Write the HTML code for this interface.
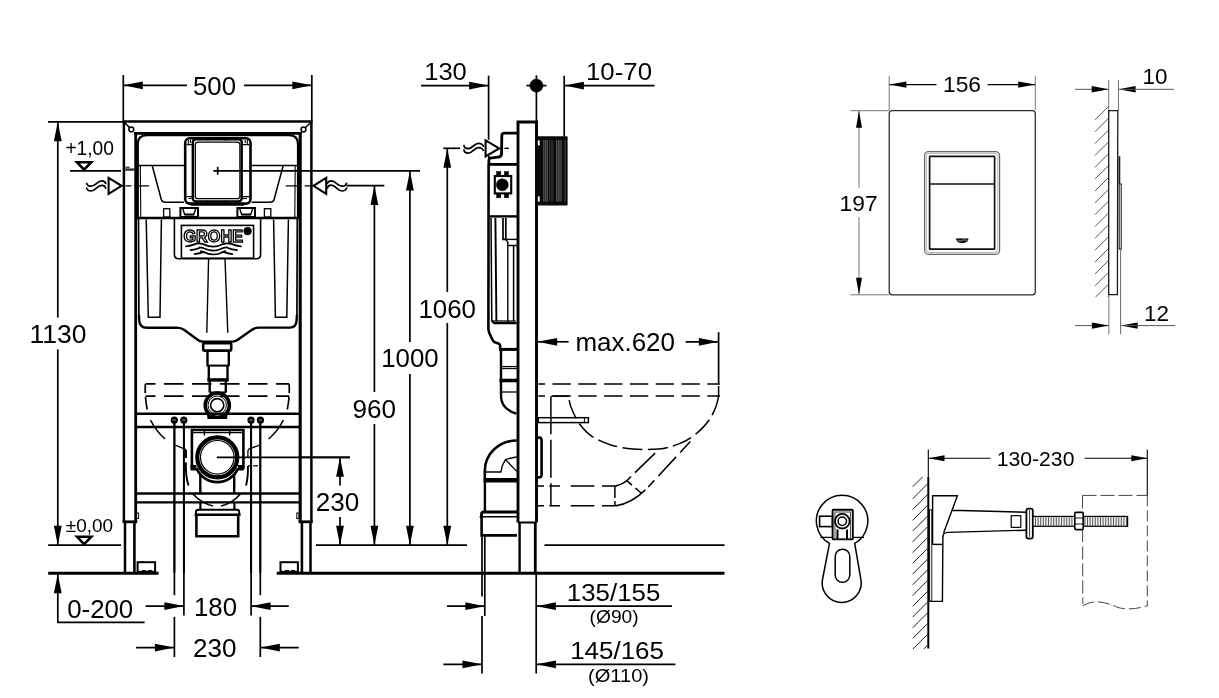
<!DOCTYPE html>
<html><head><meta charset="utf-8"><title>GROHE Rapid SL</title>
<style>
html,body{margin:0;padding:0;background:#fff;}
svg{display:block;filter:grayscale(1);}
text{font-family:"Liberation Sans",Arial,sans-serif;}
</style></head><body>
<svg width="1219" height="698" viewBox="0 0 1219 698" stroke-linecap="butt">
<rect x="0" y="0" width="1219" height="698" fill="#fff"/>
<g opacity="0.999">
<line x1="123.3" y1="75" x2="123.3" y2="121" stroke="#000" stroke-width="1.7" />
<line x1="311.8" y1="75" x2="311.8" y2="121" stroke="#000" stroke-width="1.7" />
<line x1="123.3" y1="85.3" x2="187" y2="85.3" stroke="#000" stroke-width="1.7" />
<line x1="244" y1="85.3" x2="311.8" y2="85.3" stroke="#000" stroke-width="1.7" />
<polygon points="123.3,85.3 142.8,81.39999999999999 142.8,89.2" fill="#000"/>
<polygon points="311.8,85.3 292.3,81.39999999999999 292.3,89.2" fill="#000"/>
<text x="193" y="95.2" font-size="25.2" text-anchor="start" fill="#000" textLength="43" lengthAdjust="spacingAndGlyphs" >500</text>
<line x1="48" y1="121.8" x2="123" y2="121.8" stroke="#000" stroke-width="1.7" />
<line x1="57.8" y1="122" x2="57.8" y2="317.6" stroke="#000" stroke-width="1.7" />
<line x1="57.8" y1="349.4" x2="57.8" y2="545" stroke="#000" stroke-width="1.7" />
<polygon points="57.8,121.8 53.9,141.3 61.699999999999996,141.3" fill="#000"/>
<polygon points="57.8,545.2 53.9,525.7 61.699999999999996,525.7" fill="#000"/>
<text x="29.5" y="343.4" font-size="25.2" text-anchor="start" fill="#000" textLength="57" lengthAdjust="spacingAndGlyphs" >1130</text>
<line x1="48.2" y1="545.2" x2="121" y2="545.2" stroke="#000" stroke-width="1.7" />
<text x="65.4" y="155.2" font-size="19.4" text-anchor="start" fill="#000" textLength="48.6" lengthAdjust="spacingAndGlyphs" >+1,00</text>
<path d="M77,162.3 L91.2,162.3 L84.1,169.6 Z" stroke="#000" stroke-width="2.6" fill="none" />
<line x1="70" y1="170.9" x2="121" y2="170.9" stroke="#000" stroke-width="1.7" />
<text x="65.8" y="531.9" font-size="18.4" text-anchor="start" fill="#000" textLength="47.2" lengthAdjust="spacingAndGlyphs" >±0,00</text>
<path d="M77.1,536.8 L91.3,536.8 L84.2,544.2 Z" stroke="#000" stroke-width="2.6" fill="none" />
<line x1="48.2" y1="573.2" x2="158.6" y2="573.2" stroke="#000" stroke-width="3" />
<line x1="276.7" y1="573.2" x2="724.5" y2="573.2" stroke="#000" stroke-width="3" />
<line x1="316" y1="545.2" x2="467" y2="545.2" stroke="#000" stroke-width="1.7" />
<line x1="544.5" y1="545.2" x2="724.5" y2="545.2" stroke="#000" stroke-width="1.7" />
<line x1="57.8" y1="573.5" x2="57.8" y2="622.3" stroke="#000" stroke-width="1.7" />
<polygon points="57.8,573.8 53.9,593.3 61.699999999999996,593.3" fill="#000"/>
<line x1="57.2" y1="622.3" x2="144.7" y2="622.3" stroke="#000" stroke-width="1.7" />
<text x="67.2" y="617.6" font-size="25.2" text-anchor="start" fill="#000" textLength="66" lengthAdjust="spacingAndGlyphs" >0-200</text>
<line x1="174.4" y1="420" x2="174.4" y2="595.2" stroke="#000" stroke-width="1.7" />
<line x1="174.4" y1="616.8" x2="174.4" y2="657" stroke="#000" stroke-width="1.7" />
<line x1="183.9" y1="420" x2="183.9" y2="615.6" stroke="#000" stroke-width="1.7" />
<line x1="251.1" y1="420" x2="251.1" y2="615.6" stroke="#000" stroke-width="1.7" />
<line x1="260.3" y1="420" x2="260.3" y2="595.2" stroke="#000" stroke-width="1.7" />
<line x1="260.3" y1="616.8" x2="260.3" y2="657" stroke="#000" stroke-width="1.7" />
<line x1="145.6" y1="606.1" x2="183.9" y2="606.1" stroke="#000" stroke-width="1.7" />
<polygon points="183.9,606.1 164.4,602.2 164.4,610.0" fill="#000"/>
<line x1="251.1" y1="606.1" x2="288.8" y2="606.1" stroke="#000" stroke-width="1.7" />
<polygon points="251.1,606.1 270.6,602.2 270.6,610.0" fill="#000"/>
<line x1="136.1" y1="647.6" x2="174.4" y2="647.6" stroke="#000" stroke-width="1.7" />
<polygon points="174.4,647.6 154.9,643.7 154.9,651.5" fill="#000"/>
<line x1="260.3" y1="647.6" x2="298.8" y2="647.6" stroke="#000" stroke-width="1.7" />
<polygon points="260.3,647.6 279.8,643.7 279.8,651.5" fill="#000"/>
<text x="194" y="615.6" font-size="25.2" text-anchor="start" fill="#000" textLength="43" lengthAdjust="spacingAndGlyphs" >180</text>
<text x="193" y="656.8" font-size="25.2" text-anchor="start" fill="#000" textLength="43.5" lengthAdjust="spacingAndGlyphs" >230</text>
<line x1="125.2" y1="169.6" x2="134.3" y2="169.6" stroke="#333" stroke-width="2.4" />
<line x1="125.4" y1="167.4" x2="129.6" y2="167.4" stroke="#444" stroke-width="1.6" />
<line x1="122.6" y1="121.6" x2="312.6" y2="121.6" stroke="#000" stroke-width="2.5" />
<line x1="123.9" y1="121" x2="123.9" y2="522" stroke="#000" stroke-width="2.5" />
<line x1="311.4" y1="121" x2="311.4" y2="522" stroke="#000" stroke-width="2.5" />
<line x1="135.7" y1="132" x2="135.7" y2="522" stroke="#000" stroke-width="2.8" />
<line x1="300.2" y1="132" x2="300.2" y2="522" stroke="#000" stroke-width="3.1" />
<line x1="134.3" y1="133.4" x2="301.7" y2="133.4" stroke="#000" stroke-width="2.8" />
<line x1="122.7" y1="521.8" x2="137.2" y2="521.8" stroke="#000" stroke-width="2.8" />
<line x1="298.6" y1="521.8" x2="312.7" y2="521.8" stroke="#000" stroke-width="2.8" />
<line x1="125" y1="522" x2="125" y2="572" stroke="#000" stroke-width="2.5" />
<line x1="134.4" y1="522" x2="134.4" y2="572" stroke="#000" stroke-width="2.6" />
<line x1="301.9" y1="522" x2="301.9" y2="572" stroke="#000" stroke-width="2.6" />
<line x1="310.5" y1="522" x2="310.5" y2="572" stroke="#000" stroke-width="2.5" />
<line x1="124" y1="122" x2="129.6" y2="127.6" stroke="#000" stroke-width="1.5" />
<circle cx="131.3" cy="129.4" r="2.4" stroke="#000" stroke-width="1.5" fill="none"/>
<line x1="311.4" y1="122" x2="305.2" y2="127.8" stroke="#000" stroke-width="1.5" />
<circle cx="303.5" cy="129.5" r="2.4" stroke="#000" stroke-width="1.5" fill="none"/>
<line x1="135.8" y1="413.8" x2="299.9" y2="413.8" stroke="#000" stroke-width="2.6" />
<line x1="135.8" y1="427" x2="299.9" y2="427" stroke="#000" stroke-width="2.6" />
<line x1="135.8" y1="493.5" x2="299.9" y2="493.5" stroke="#000" stroke-width="2.4" />
<line x1="135.8" y1="502.4" x2="299.9" y2="502.4" stroke="#000" stroke-width="2.4" />
<rect x="137.6" y="562.2" width="17.5" height="9.6" rx="0" stroke="#000" stroke-width="2" fill="none" />
<rect x="280.5" y="562.2" width="17.4" height="9.6" rx="0" stroke="#000" stroke-width="2" fill="none" />
<line x1="142" y1="570.5" x2="146" y2="570.5" stroke="#000" stroke-width="1" />
<line x1="148" y1="570.5" x2="152" y2="570.5" stroke="#000" stroke-width="1" />
<line x1="285" y1="570.5" x2="289" y2="570.5" stroke="#000" stroke-width="1" />
<line x1="291" y1="570.5" x2="295" y2="570.5" stroke="#000" stroke-width="1" />
<rect x="136.5" y="513" width="2.1" height="5.5" rx="0" stroke="#000" stroke-width="1" fill="none" />
<rect x="296.8" y="513" width="2.2" height="5.5" rx="0" stroke="#000" stroke-width="1" fill="none" />
<path d="M137.8,218 L137.8,144.4 Q137.8,135.2 147,135.2 L288.8,135.2 Q298,135.2 298,144.4 L298,218" stroke="#000" stroke-width="2.2" fill="none" />
<line x1="138.5" y1="218" x2="138.9" y2="317" stroke="#000" stroke-width="1.7" />
<line x1="297.3" y1="218" x2="296.9" y2="317" stroke="#000" stroke-width="1.7" />
<path d="M138.9,315 L139.2,320.5 Q139.6,327.8 147,327.8 L177.2,327.6 Q181,327.8 184,329.8 L198,340 Q200,341.6 203,341.6 L232.5,341.6 Q235.2,341.6 237.4,340 L252,329.8 Q255,327.8 258.6,327.6 L289.5,327.6 Q296.2,327.8 296.6,320.5 L296.9,315" stroke="#000" stroke-width="2.4" fill="none" />
<line x1="138" y1="165.5" x2="184" y2="165.5" stroke="#000" stroke-width="1.5" />
<line x1="251.6" y1="165.5" x2="297.6" y2="165.5" stroke="#000" stroke-width="1.5" />
<path d="M152.2,165.5 L161.3,199.5 Q162.2,202.2 165.5,202.2 L184,202.2" stroke="#000" stroke-width="1.5" fill="none" />
<path d="M283.2,165.5 L274.1,199.5 Q273.2,202.2 269.9,202.2 L251.6,202.2" stroke="#000" stroke-width="1.5" fill="none" />
<line x1="140.3" y1="166" x2="140.8" y2="218" stroke="#000" stroke-width="1.1" />
<line x1="295.2" y1="166" x2="294.8" y2="218" stroke="#000" stroke-width="1.1" />
<line x1="135.8" y1="218" x2="299.9" y2="218" stroke="#000" stroke-width="2.4" />
<rect x="163.6" y="208.7" width="6.2" height="8.3" rx="0" stroke="#000" stroke-width="1.3" fill="none" />
<rect x="264.4" y="208.7" width="6.4" height="8.3" rx="0" stroke="#000" stroke-width="1.3" fill="none" />
<rect x="180.4" y="208" width="17.6" height="9" rx="0" stroke="#000" stroke-width="2" fill="none" />
<rect x="237.4" y="208" width="17.6" height="9" rx="0" stroke="#000" stroke-width="2" fill="none" />
<path d="M182.8,209 L184.6,214.3 L193.8,214.3 L195.6,209" stroke="#000" stroke-width="1.4" fill="none" />
<path d="M239.8,209 L241.6,214.3 L250.8,214.3 L252.6,209" stroke="#000" stroke-width="1.4" fill="none" />
<line x1="184.5" y1="216" x2="194.5" y2="216" stroke="#000" stroke-width="1.2" />
<line x1="241.3" y1="216" x2="251.3" y2="216" stroke="#000" stroke-width="1.2" />
<rect x="185.2" y="138.3" width="65.3" height="65.3" rx="4.5" stroke="#000" stroke-width="2.6" fill="none" />
<rect x="192.8" y="139.2" width="48.9" height="62.2" rx="3" stroke="#000" stroke-width="2.4" fill="none" />
<rect x="195.3" y="142.1" width="44.6" height="56.6" rx="2.5" stroke="#000" stroke-width="1.3" fill="none" />
<line x1="190.5" y1="204.2" x2="244" y2="204.2" stroke="#000" stroke-width="3" />
<line x1="186.6" y1="144.6" x2="192" y2="144.6" stroke="#000" stroke-width="1.3" />
<line x1="186.6" y1="196.6" x2="192" y2="196.6" stroke="#000" stroke-width="1.3" />
<line x1="242.6" y1="144.6" x2="249" y2="144.6" stroke="#000" stroke-width="1.3" />
<line x1="242.6" y1="196.6" x2="249" y2="196.6" stroke="#000" stroke-width="1.3" />
<line x1="188.3" y1="140" x2="188.3" y2="144.6" stroke="#000" stroke-width="1.1" />
<line x1="190.4" y1="140" x2="190.4" y2="143" stroke="#000" stroke-width="1.1" />
<line x1="247.3" y1="140" x2="247.3" y2="144.6" stroke="#000" stroke-width="1.1" />
<line x1="245.2" y1="140" x2="245.2" y2="143" stroke="#000" stroke-width="1.1" />
<line x1="188.5" y1="198.5" x2="191.5" y2="198.5" stroke="#000" stroke-width="1.1" />
<line x1="243" y1="198.5" x2="247" y2="198.5" stroke="#000" stroke-width="1.1" />
<line x1="207.8" y1="138.4" x2="207.8" y2="140.6" stroke="#000" stroke-width="1.6" />
<line x1="225.6" y1="138.4" x2="225.6" y2="140.6" stroke="#000" stroke-width="1.6" />
<line x1="207.8" y1="200.6" x2="207.8" y2="203" stroke="#000" stroke-width="1.4" />
<line x1="225.6" y1="200.6" x2="225.6" y2="203" stroke="#000" stroke-width="1.4" />
<line x1="213.4" y1="170.9" x2="420" y2="170.9" stroke="#000" stroke-width="1.7" />
<line x1="217.7" y1="166.8" x2="217.7" y2="174.8" stroke="#000" stroke-width="1.7" />
<path d="M108.6,177.8 L121.6,185.8 L108.6,193.8 Z" stroke="#000" stroke-width="2.1" fill="none" />
<path d="M86.6,182.8 C86.89999999999999,185.18 89.2,186.2 91,186.2 C95.86,186.2 96.94,180.9 101.8,180.9 C103.6,180.9 105.5,181.89 105.8,184.2" stroke="#000" stroke-width="1.7" fill="none" />
<path d="M86.6,187.5 C86.89999999999999,189.95 89.2,191 91,191 C95.86,191 96.94,185.4 101.8,185.4 C103.6,185.4 105.5,186.45000000000002 105.8,188.9" stroke="#000" stroke-width="1.7" fill="none" />
<line x1="125.5" y1="185.8" x2="149" y2="185.8" stroke="#000" stroke-width="1.2" stroke-dasharray="6,2.5,15"/>
<path d="M326.2,177.8 L313.4,185.8 L326.2,193.8 Z" stroke="#000" stroke-width="2.1" fill="none" />
<path d="M327.2,184.2 C327.5,181.89 329.5,180.9 331.3,180.9 C336.115,180.9 337.185,186.2 342,186.2 C343.8,186.2 346.3,185.12 346.6,182.6" stroke="#000" stroke-width="1.7" fill="none" />
<path d="M327.2,188.9 C327.5,186.31 329.5,185.2 331.3,185.2 C336.115,185.2 337.185,191 342,191 C343.8,191 346.5,189.89000000000001 346.8,187.3" stroke="#000" stroke-width="1.7" fill="none" />
<line x1="285.7" y1="185.8" x2="313" y2="185.8" stroke="#000" stroke-width="1.2" stroke-dasharray="12,7,5.5,3"/>
<line x1="346.5" y1="185.6" x2="384.4" y2="185.6" stroke="#000" stroke-width="1.7" />
<path d="M174.4,218 L174.4,254.6 Q174.4,258.8 178.6,258.8 L256.4,258.8 Q260.6,258.8 260.6,254.6 L260.6,218" stroke="#000" stroke-width="1.6" fill="none" />
<rect x="181.4" y="225.4" width="72.2" height="32.8" rx="0" stroke="#000" stroke-width="1.6" fill="none" />
<text x="183.4" y="241.7" font-size="16" font-weight="bold" textLength="59.6" lengthAdjust="spacingAndGlyphs" fill="#fff" stroke="#000" stroke-width="1.3">GROHE</text>
<circle cx="247.6" cy="231.1" r="3.9" stroke="#000" stroke-width="0.5" fill="#000"/>
<path d="M186,246.3 Q191,245.70000000000002 195,244.10000000000002 Q198.4,242.70000000000002 203,244.10000000000002 Q209,246.70000000000002 213.5,246.70000000000002 Q218,246.70000000000002 223,244.10000000000002 Q227.6,242.70000000000002 232,244.10000000000002 Q236,245.70000000000002 241,246.3" stroke="#000" stroke-width="1.7" fill="none" stroke-linecap="round"/>
<path d="M190.5,250.20000000000002 Q195.5,249.60000000000002 199.5,248.00000000000003 Q198.4,246.60000000000002 203,248.00000000000003 Q209,250.60000000000002 213.5,250.60000000000002 Q218,250.60000000000002 223,248.00000000000003 Q227.6,246.60000000000002 228,248.00000000000003 Q232,249.60000000000002 237,250.20000000000002" stroke="#000" stroke-width="1.7" fill="none" stroke-linecap="round"/>
<path d="M194.6,254.10000000000002 Q199.6,253.50000000000003 203.6,251.90000000000003 Q198.4,250.50000000000003 203,251.90000000000003 Q209,254.50000000000003 213.5,254.50000000000003 Q218,254.50000000000003 223,251.90000000000003 Q227.6,250.50000000000003 223.4,251.90000000000003 Q227.4,253.50000000000003 232.4,254.10000000000002" stroke="#000" stroke-width="1.7" fill="none" stroke-linecap="round"/>
<path d="M146.2,219.5 L148.3,317.2 L160,317.2 L161.4,219.5" stroke="#000" stroke-width="1.5" fill="none" />
<path d="M273.6,219.5 L275.4,317.2 L286.8,317.2 L288.4,219.5" stroke="#000" stroke-width="1.5" fill="none" />
<line x1="208.6" y1="259" x2="206.8" y2="332.8" stroke="#000" stroke-width="1.4" />
<line x1="225" y1="259" x2="227.8" y2="332.8" stroke="#000" stroke-width="1.4" />
<rect x="203.2" y="343.2" width="28.0" height="7.4" rx="1" stroke="#000" stroke-width="2.6" fill="none" />
<path d="M207.5,351 L207.5,365.5 M228.8,351 L228.8,365.5" stroke="#000" stroke-width="2.4" fill="none" />
<line x1="206.5" y1="365.6" x2="229.5" y2="365.6" stroke="#000" stroke-width="2" />
<path d="M208.8,366 L208.8,379 M227.5,366 L227.5,379" stroke="#000" stroke-width="2.4" fill="none" />
<path d="M209.7,381 L209.7,392.5 M225.8,381 L225.8,392.5" stroke="#000" stroke-width="2.4" fill="none" />
<line x1="207.3" y1="379.9" x2="228.8" y2="379.9" stroke="#000" stroke-width="3.4" />
<line x1="209.7" y1="392.4" x2="225.8" y2="392.4" stroke="#000" stroke-width="1.8" />
<circle cx="217.3" cy="405.2" r="12.1" stroke="#000" stroke-width="3.5" fill="none"/>
<circle cx="217.2" cy="405.2" r="9.2" stroke="#000" stroke-width="1" fill="none"/>
<circle cx="217.2" cy="405.2" r="6.6" stroke="#000" stroke-width="1.6" fill="none"/>
<path d="M208,413 L208.6,417.8 L226,417.8 L226.6,413" stroke="#000" stroke-width="2.4" fill="none" />
<line x1="145.5" y1="383.9" x2="289.2" y2="383.9" stroke="#000" stroke-width="1.6" stroke-dasharray="10,8.5,19.5,8.5,19.5,8.5,19.5,8.5,19.5,8.5,19.5"/>
<line x1="145.5" y1="396.1" x2="289.2" y2="396.1" stroke="#000" stroke-width="1.6" stroke-dasharray="10,8.5,19.5,8.5,19.5,8.5,19.5,8.5,19.5,8.5,19.5"/>
<path d="M145.3,384 Q144.8,398 147.2,409.5" stroke="#000" stroke-width="1.7" fill="none" stroke-dasharray="9,4,14"/>
<path d="M289.2,384 Q289.7,398 287.3,409.5" stroke="#000" stroke-width="1.7" fill="none" stroke-dasharray="9,4,14"/>
<path d="M150.5,420 Q156,431 165,439" stroke="#000" stroke-width="1.6" fill="none" />
<path d="M283.3,420 Q278,431 268.6,439" stroke="#000" stroke-width="1.6" fill="none" />
<line x1="174.4" y1="421" x2="174.4" y2="573" stroke="#000" stroke-width="2" />
<line x1="183.9" y1="421" x2="183.9" y2="573" stroke="#000" stroke-width="2" />
<line x1="251.1" y1="421" x2="251.1" y2="573" stroke="#000" stroke-width="2" />
<line x1="260.3" y1="421" x2="260.3" y2="573" stroke="#000" stroke-width="2" />
<circle cx="174.3" cy="420.2" r="3" stroke="#000" stroke-width="1.2" fill="#000"/>
<path d="M173.0,420.6 A1.4,1.4 0 0 1 175.60000000000002,420.6" stroke="#fff" stroke-width="0.7" fill="none"/>
<circle cx="183.8" cy="420.2" r="3" stroke="#000" stroke-width="1.2" fill="#000"/>
<path d="M182.5,420.6 A1.4,1.4 0 0 1 185.10000000000002,420.6" stroke="#fff" stroke-width="0.7" fill="none"/>
<circle cx="251" cy="420.2" r="3" stroke="#000" stroke-width="1.2" fill="#000"/>
<path d="M249.7,420.6 A1.4,1.4 0 0 1 252.3,420.6" stroke="#fff" stroke-width="0.7" fill="none"/>
<circle cx="260.4" cy="420.2" r="3" stroke="#000" stroke-width="1.2" fill="#000"/>
<path d="M259.09999999999997,420.6 A1.4,1.4 0 0 1 261.7,420.6" stroke="#fff" stroke-width="0.7" fill="none"/>
<path d="M175.2,445.2 L185.6,449.4 L185.9,458" stroke="#000" stroke-width="1.3" fill="none" />
<path d="M259.9,445.2 L250,448.4 Q248,449 247.9,451 L247.9,457.2" stroke="#000" stroke-width="1.3" fill="none" />
<line x1="260.3" y1="445" x2="260.3" y2="449" stroke="#000" stroke-width="1.3" />
<line x1="185.9" y1="450" x2="185.9" y2="458" stroke="#000" stroke-width="2.2" />
<path d="M185.9,462.5 Q185.6,478 188.6,485.5" stroke="#000" stroke-width="1.9" fill="none" />
<path d="M247.9,466 Q248.2,478 246,485.5" stroke="#000" stroke-width="1.9" fill="none" />
<path d="M192.8,494 Q202,503.5 213,506" stroke="#000" stroke-width="1.7" fill="none" />
<path d="M240.4,494 Q232,503.5 221,506" stroke="#000" stroke-width="1.7" fill="none" />
<line x1="248" y1="465.8" x2="251" y2="465.8" stroke="#000" stroke-width="1.2" />
<line x1="253" y1="465.8" x2="258" y2="465.8" stroke="#000" stroke-width="1.2" />
<path d="M191.9,469 L191.9,430 L243.4,430 L243.4,469" stroke="#000" stroke-width="2.6" fill="none" />
<line x1="192" y1="432.6" x2="243.4" y2="432.6" stroke="#000" stroke-width="1.2" />
<line x1="204.4" y1="431" x2="204.4" y2="435.6" stroke="#000" stroke-width="1.4" />
<line x1="229.7" y1="431" x2="229.7" y2="435.6" stroke="#000" stroke-width="1.4" />
<circle cx="217.3" cy="457.3" r="20" stroke="#000" stroke-width="4.2" fill="none"/>
<circle cx="217.3" cy="457.3" r="16.8" stroke="#000" stroke-width="1.2" fill="none"/>
<path d="M190.6,467.8 L196.4,467.8 M238,467.8 L243.8,467.8" stroke="#000" stroke-width="5.4" fill="none" />
<path d="M237.98,468.15 A22.3,22.3 0 0 1 196.62,468.15" stroke="#000" stroke-width="2.8" fill="none" />
<line x1="216.8" y1="457.3" x2="350" y2="457.3" stroke="#000" stroke-width="1.7" />
<line x1="200.3" y1="475" x2="200.3" y2="493" stroke="#000" stroke-width="2.4" />
<line x1="234.2" y1="475" x2="234.2" y2="493" stroke="#000" stroke-width="2.4" />
<line x1="200.4" y1="502.4" x2="200.4" y2="509" stroke="#000" stroke-width="2.2" />
<line x1="234.4" y1="502.4" x2="234.4" y2="509" stroke="#000" stroke-width="2.2" />
<path d="M196,514.6 L196,512 Q196,509.8 198.6,509.8 L236.6,509.8 Q239.2,509.8 239.2,512 L239.2,514.6" stroke="#000" stroke-width="2" fill="none" />
<line x1="194.6" y1="514.8" x2="240.6" y2="514.8" stroke="#000" stroke-width="2.6" />
<path d="M196.4,515 L196.4,536.2 L238.2,536.2 L238.2,515" stroke="#000" stroke-width="2.6" fill="none" />
<line x1="374.4" y1="186" x2="374.4" y2="392" stroke="#000" stroke-width="1.7" />
<line x1="374.4" y1="424" x2="374.4" y2="545" stroke="#000" stroke-width="1.7" />
<polygon points="374.4,185.6 370.5,205.1 378.29999999999995,205.1" fill="#000"/>
<polygon points="374.4,545.2 370.5,525.7 378.29999999999995,525.7" fill="#000"/>
<text x="352.6" y="417.6" font-size="25.2" text-anchor="start" fill="#000" textLength="43.5" lengthAdjust="spacingAndGlyphs" >960</text>
<line x1="409.9" y1="171" x2="409.9" y2="342" stroke="#000" stroke-width="1.7" />
<line x1="409.9" y1="374" x2="409.9" y2="545" stroke="#000" stroke-width="1.7" />
<polygon points="409.9,170.9 406.0,190.4 413.79999999999995,190.4" fill="#000"/>
<polygon points="409.9,545.2 406.0,525.7 413.79999999999995,525.7" fill="#000"/>
<text x="381.2" y="367.4" font-size="25.2" text-anchor="start" fill="#000" textLength="57.5" lengthAdjust="spacingAndGlyphs" >1000</text>
<line x1="443.3" y1="148.3" x2="460.2" y2="148.3" stroke="#000" stroke-width="1.7" />
<line x1="447.3" y1="149" x2="447.3" y2="292" stroke="#000" stroke-width="1.7" />
<line x1="447.3" y1="323" x2="447.3" y2="545" stroke="#000" stroke-width="1.7" />
<polygon points="447.3,148.2 443.40000000000003,167.7 451.2,167.7" fill="#000"/>
<polygon points="447.3,545.2 443.40000000000003,525.7 451.2,525.7" fill="#000"/>
<text x="418.4" y="317.6" font-size="25.2" text-anchor="start" fill="#000" textLength="57.6" lengthAdjust="spacingAndGlyphs" >1060</text>
<line x1="300" y1="457.3" x2="350" y2="457.3" stroke="#000" stroke-width="1.7" />
<line x1="340" y1="458" x2="340" y2="485.5" stroke="#000" stroke-width="1.7" />
<line x1="340" y1="517" x2="340" y2="545" stroke="#000" stroke-width="1.7" />
<polygon points="340,457.3 336.1,476.8 343.9,476.8" fill="#000"/>
<polygon points="340,545.2 336.1,525.7 343.9,525.7" fill="#000"/>
<text x="315.8" y="510.8" font-size="25.2" text-anchor="start" fill="#000" textLength="43.5" lengthAdjust="spacingAndGlyphs" >230</text>
<line x1="421" y1="85.6" x2="488.6" y2="85.6" stroke="#000" stroke-width="1.7" />
<polygon points="488.6,85.6 469.1,81.69999999999999 469.1,89.5" fill="#000"/>
<line x1="488.6" y1="75.7" x2="488.6" y2="139.8" stroke="#000" stroke-width="1.7" />
<line x1="488.8" y1="156" x2="488.8" y2="164" stroke="#000" stroke-width="1.7" />
<text x="424.2" y="79.9" font-size="24.6" text-anchor="start" fill="#000" textLength="42.6" lengthAdjust="spacingAndGlyphs" >130</text>
<circle cx="536.4" cy="85.6" r="6.6" stroke="#000" stroke-width="0.5" fill="#000"/>
<line x1="526.3" y1="85.6" x2="546.5" y2="85.6" stroke="#000" stroke-width="1.7" />
<line x1="536.4" y1="75.3" x2="536.4" y2="121" stroke="#000" stroke-width="1.7" />
<line x1="564.2" y1="75.7" x2="564.2" y2="136.5" stroke="#000" stroke-width="1.7" />
<polygon points="564.4,85.6 583.9,81.69999999999999 583.9,89.5" fill="#000"/>
<line x1="564.4" y1="85.6" x2="654.5" y2="85.6" stroke="#000" stroke-width="1.7" />
<text x="586" y="79.9" font-size="24.6" text-anchor="start" fill="#000" textLength="66" lengthAdjust="spacingAndGlyphs" >10-70</text>
<path d="M463.8,144.8 C464.1,147.46 466.4,148.6 468.2,148.6 C472.88,148.6 473.92,143.4 478.6,143.4 C480.40000000000003,143.4 483.3,144.48000000000002 483.6,147" stroke="#000" stroke-width="1.7" fill="none" />
<path d="M463.8,149.3 C464.1,151.96 466.4,153.1 468.2,153.1 C472.88,153.1 473.92,147.6 478.6,147.6 C480.40000000000003,147.6 483.09999999999997,148.65 483.4,151.1" stroke="#000" stroke-width="1.7" fill="none" />
<path d="M485.6,140.4 L499.2,148.4 L485.6,156.4 Z" stroke="#000" stroke-width="2.1" fill="none" />
<line x1="504.4" y1="148.3" x2="508.9" y2="148.3" stroke="#000" stroke-width="1.4" />
<path d="M518,522.5 L518,122 L536.5,122 L536.5,522.5" stroke="#000" stroke-width="2.9" fill="none" />
<line x1="518" y1="522.5" x2="536.5" y2="522.5" stroke="#000" stroke-width="2" />
<line x1="519.6" y1="523" x2="519.6" y2="572" stroke="#000" stroke-width="2.4" />
<line x1="535.3" y1="523" x2="535.3" y2="572" stroke="#000" stroke-width="2.8" />
<path d="M518,133.2 L504.4,133.2 Q501.8,133.2 501.8,136 L501.6,153.6 Q501.4,156.8 498,157.2 L490,158.2 Q488.9,158.6 488.9,160 L488.9,164" stroke="#000" stroke-width="2.8" fill="none" />
<line x1="488.4" y1="164.4" x2="518" y2="164.4" stroke="#000" stroke-width="2.8" />
<path d="M488.6,164 L488.4,329 Q488.6,332 490,334.5 L492.6,340 Q493.6,342.2 496,342.8 L498.6,343.6 Q500.2,344.2 500.2,346 L500.2,349" stroke="#000" stroke-width="2.6" fill="none" />
<line x1="488.5" y1="216.4" x2="517.6" y2="216.4" stroke="#000" stroke-width="2.4" />
<rect x="494.8" y="176" width="16.4" height="17.4" rx="0" stroke="#000" stroke-width="2.1" fill="none" />
<circle cx="502.3" cy="184.8" r="6" stroke="#000" stroke-width="0.5" fill="#000"/>
<rect x="496.6" y="171.6" width="4.2" height="4.4" rx="0" stroke="#000" stroke-width="0.5" fill="#000" />
<rect x="496.6" y="193.4" width="4.2" height="4.4" rx="0" stroke="#000" stroke-width="0.5" fill="#000" />
<rect x="504.4" y="171.6" width="4.2" height="4.4" rx="0" stroke="#000" stroke-width="0.5" fill="#000" />
<rect x="504.4" y="193.4" width="4.2" height="4.4" rx="0" stroke="#000" stroke-width="0.5" fill="#000" />
<line x1="491" y1="218" x2="491.8" y2="321" stroke="#000" stroke-width="1.5" />
<line x1="495.4" y1="218" x2="496.4" y2="321" stroke="#000" stroke-width="1.9" />
<path d="M503,218 L503,239.4 L505.8,239.4 L505.8,218" stroke="#000" stroke-width="1.7" fill="none" />
<path d="M505.6,239.4 L517,239.4" stroke="#000" stroke-width="1.4" fill="none" />
<path d="M505.6,239.4 L507.8,242 L507.8,322" stroke="#000" stroke-width="1.4" fill="none" />
<path d="M513.6,245.4 L513.6,321 M507.8,245.4 L516.8,245.4" stroke="#000" stroke-width="1.5" fill="none" />
<path d="M491.8,321 L515.8,321" stroke="#000" stroke-width="1.3" fill="none" />
<path d="M491.8,321 L494.2,323.2 L516.5,323.2" stroke="#000" stroke-width="2.2" fill="none" />
<path d="M499,349.4 L517,349.4" stroke="#000" stroke-width="3" fill="none" />
<path d="M501,349.4 L501,396.5 Q501.2,409 516.4,413.6" stroke="#000" stroke-width="2.4" fill="none" />
<line x1="500.5" y1="366.6" x2="517" y2="366.6" stroke="#000" stroke-width="1.3" />
<line x1="500.5" y1="368.6" x2="517" y2="368.6" stroke="#000" stroke-width="1.1" />
<line x1="499.4" y1="380.5" x2="517" y2="380.5" stroke="#000" stroke-width="3.6" />
<line x1="500.5" y1="392" x2="517" y2="392" stroke="#000" stroke-width="1.3" />
<rect x="536.6" y="136.2" width="31" height="69.2" rx="1" fill="#0a0a0a"/>
<line x1="543.9" y1="140" x2="543.9" y2="201.6" stroke="#999" stroke-width="0.7" />
<line x1="545.9" y1="140" x2="545.9" y2="201.6" stroke="#aaa" stroke-width="0.7" />
<line x1="547.4" y1="140" x2="547.4" y2="201.6" stroke="#888" stroke-width="0.6" />
<line x1="549.6" y1="140" x2="549.6" y2="201.6" stroke="#555" stroke-width="0.6" />
<line x1="551.2" y1="140" x2="551.2" y2="201.6" stroke="#555" stroke-width="0.6" />
<line x1="552.8" y1="140" x2="552.8" y2="201.6" stroke="#555" stroke-width="0.6" />
<line x1="556.8" y1="140" x2="556.8" y2="201.6" stroke="#999" stroke-width="0.7" />
<line x1="558.9" y1="140" x2="558.9" y2="201.6" stroke="#aaa" stroke-width="0.7" />
<line x1="561" y1="140" x2="561" y2="201.6" stroke="#999" stroke-width="0.7" />
<line x1="565" y1="140" x2="565" y2="201.6" stroke="#777" stroke-width="0.6" />
<rect x="537.8" y="140.4" width="1.9" height="5" fill="#fff"/><rect x="537.8" y="196.4" width="1.9" height="5.2" fill="#fff"/>
<polygon points="537.6,341.8 557.1,337.90000000000003 557.1,345.7" fill="#000"/>
<line x1="537.6" y1="341.8" x2="568.6" y2="341.8" stroke="#000" stroke-width="1.7" />
<line x1="685.7" y1="341.8" x2="718" y2="341.8" stroke="#000" stroke-width="1.7" />
<polygon points="718.4,341.8 698.9,337.90000000000003 698.9,345.7" fill="#000"/>
<line x1="718.6" y1="332.2" x2="718.6" y2="384" stroke="#000" stroke-width="1.7" />
<line x1="718.6" y1="386" x2="718.6" y2="396" stroke="#000" stroke-width="1.5" />
<text x="575.4" y="351" font-size="25.2" text-anchor="start" fill="#000" textLength="99.6" lengthAdjust="spacingAndGlyphs" >max.620</text>
<line x1="538.3" y1="383.9" x2="720" y2="383.9" stroke="#000" stroke-width="1.5" stroke-dasharray="18.3,7.5" stroke-dashoffset="11.6"/>
<line x1="538.3" y1="396.1" x2="720" y2="396.1" stroke="#000" stroke-width="1.5" stroke-dasharray="18.3,7.5" stroke-dashoffset="11.6"/>
<path d="M718.6,396.2 C717,405 715,410 712.6,414 C708,423 702,429 695.4,434.4 C690,439 684,442 678.2,444.1 C671,447 665,448.6 658.9,449.1 C650,449.8 641,449.8 633.1,449.1 C625,448.4 618,447 611.6,445.2 C604,443 598,440 592.3,436.6 C587,433 583,428.5 579.4,423.7 C575.5,418 573,412.5 570.8,406.5 C569.6,403 569,399.5 568.7,396.2" stroke="#000" stroke-width="1.5" fill="none" stroke-dasharray="20,5.5"/>
<line x1="551.4" y1="396.1" x2="568.7" y2="396.1" stroke="#000" stroke-width="1.5" />
<line x1="550.9" y1="396.2" x2="550.9" y2="505.8" stroke="#000" stroke-width="1.5" stroke-dasharray="38,5.5"/>
<rect x="538.3" y="417.7" width="50.1" height="4.9" rx="0" stroke="#000" stroke-width="1.5" fill="none" />
<line x1="584.4" y1="417.6" x2="584.4" y2="422.8" stroke="#000" stroke-width="1" />
<path d="M537.8,437.6 L539.6,437.6 Q541.6,437.8 541.6,440.4 L541.6,474.6 Q541.6,477.4 539.6,477.4 L537.8,477.4" stroke="#000" stroke-width="2.6" fill="none" />
<line x1="537.8" y1="486" x2="616.9" y2="486" stroke="#000" stroke-width="1.5" stroke-dasharray="6.2,5.3,10.7,10.8,23.6,7.6,15"/>
<line x1="537.8" y1="505.8" x2="616.9" y2="505.8" stroke="#000" stroke-width="1.5" stroke-dasharray="6.2,5.3,10.7,10.8,23.6,7.6,15"/>
<line x1="614.9" y1="486" x2="614.9" y2="505.8" stroke="#000" stroke-width="1.5" stroke-dasharray="12,3"/>
<path d="M616,485.8 Q624.5,484 630,477.5 L658.9,449.5" stroke="#000" stroke-width="1.5" fill="none" stroke-dasharray="18,5.5,28,6,20"/>
<path d="M616,505.8 Q632,503.5 647.1,488.2 L690.3,441.5" stroke="#000" stroke-width="1.5" fill="none" stroke-dasharray="34,4,9,6,26,6,22"/>
<line x1="626.7" y1="480.6" x2="641.7" y2="493.5" stroke="#000" stroke-width="1.5" stroke-dasharray="7,4.5,9"/>
<path d="M484.8,478 L484.8,470.8 A31.8,30.3 0 0 1 516.8,440.5" stroke="#000" stroke-width="2.6" fill="none" />
<path d="M485.6,472 L500.9,472 L502.4,465.5 L505.5,459.6 Q511,457.6 517,457" stroke="#000" stroke-width="1.3" fill="none" />
<line x1="505.5" y1="459.6" x2="517" y2="471.6" stroke="#000" stroke-width="1.3" />
<line x1="483.4" y1="480.2" x2="518" y2="480.2" stroke="#000" stroke-width="4.6" />
<path d="M484.9,482 L484.9,511" stroke="#000" stroke-width="2.4" fill="none" />
<path d="M481.5,516.8 L481.5,514.2 Q481.5,512 484,512 L517,512" stroke="#000" stroke-width="2.8" fill="none" />
<circle cx="481.2" cy="516.8" r="1.4" stroke="#000" stroke-width="0.5" fill="#000"/>
<line x1="481.5" y1="516.8" x2="517" y2="516.8" stroke="#000" stroke-width="1.4" />
<path d="M481.6,517 L481.6,535.4 L517,535.4" stroke="#000" stroke-width="2.6" fill="none" />
<line x1="482" y1="535" x2="482" y2="596.6" stroke="#000" stroke-width="1.7" />
<line x1="482" y1="616.1" x2="482" y2="673.5" stroke="#000" stroke-width="1.7" />
<line x1="484.8" y1="535" x2="484.8" y2="616.1" stroke="#000" stroke-width="1.7" />
<line x1="536.2" y1="573" x2="536.2" y2="673.5" stroke="#000" stroke-width="1.7" />
<line x1="447" y1="606.2" x2="484.8" y2="606.2" stroke="#000" stroke-width="1.7" />
<polygon points="484.8,606.2 465.3,602.3000000000001 465.3,610.1" fill="#000"/>
<polygon points="536.4,606.2 555.9,602.3000000000001 555.9,610.1" fill="#000"/>
<line x1="536.4" y1="606.2" x2="672" y2="606.2" stroke="#000" stroke-width="1.7" />
<line x1="443.4" y1="664.3" x2="482" y2="664.3" stroke="#000" stroke-width="1.7" />
<polygon points="482,664.3 462.5,660.4 462.5,668.1999999999999" fill="#000"/>
<polygon points="536.4,664.3 555.9,660.4 555.9,668.1999999999999" fill="#000"/>
<line x1="536.4" y1="664.3" x2="675.4" y2="664.3" stroke="#000" stroke-width="1.7" />
<text x="566.8" y="601.2" font-size="24.6" text-anchor="start" fill="#000" textLength="93.5" lengthAdjust="spacingAndGlyphs" >135/155</text>
<text x="570.2" y="659" font-size="24.6" text-anchor="start" fill="#000" textLength="93.8" lengthAdjust="spacingAndGlyphs" >145/165</text>
<text x="589.6" y="623.4" font-size="17.5" text-anchor="start" fill="#000" textLength="49" lengthAdjust="spacingAndGlyphs" >(Ø90)</text>
<text x="588" y="681.5" font-size="17.5" text-anchor="start" fill="#000" textLength="61" lengthAdjust="spacingAndGlyphs" >(Ø110)</text>
<line x1="889.2" y1="75.8" x2="889.2" y2="110" stroke="#777" stroke-width="1" />
<line x1="1035.3" y1="75.8" x2="1035.3" y2="110" stroke="#777" stroke-width="1" />
<line x1="889.4" y1="84.6" x2="936.5" y2="84.6" stroke="#000" stroke-width="1.1" />
<line x1="987.6" y1="84.6" x2="1035" y2="84.6" stroke="#000" stroke-width="1.1" />
<polygon points="889.4,84.6 906.4,81.39999999999999 906.4,87.8" fill="#000"/>
<polygon points="1035.2,84.6 1018.2,81.39999999999999 1018.2,87.8" fill="#000"/>
<text x="943" y="92.1" font-size="22" text-anchor="start" fill="#000" textLength="38" lengthAdjust="spacingAndGlyphs" >156</text>
<rect x="889.2" y="110.7" width="146.1" height="184.1" rx="3" stroke="#2a2a2a" stroke-width="1.25" fill="none" />
<line x1="850.3" y1="110.7" x2="889" y2="110.7" stroke="#777" stroke-width="1" />
<line x1="850.3" y1="294.8" x2="889" y2="294.8" stroke="#777" stroke-width="1" />
<line x1="859" y1="111" x2="859" y2="187.7" stroke="#777" stroke-width="1" />
<line x1="859" y1="217" x2="859" y2="294.5" stroke="#777" stroke-width="1" />
<polygon points="859,110.7 856,127.7 862,127.7" fill="#000"/>
<polygon points="859,294.8 856,277.8 862,277.8" fill="#000"/>
<text x="839.6" y="210.6" font-size="22" text-anchor="start" fill="#000" textLength="38" lengthAdjust="spacingAndGlyphs" >197</text>
<rect x="924.6" y="151.6" width="75.0" height="102.7" rx="4" stroke="#666" stroke-width="1.2" fill="none" />
<rect x="926.3" y="153.3" width="71.6" height="99.3" rx="3" stroke="#999" stroke-width="0.8" fill="none" />
<rect x="929.6" y="156.4" width="65.0" height="92.8" rx="0.5" stroke="#111" stroke-width="1.7" fill="none" />
<line x1="929.6" y1="184" x2="994.6" y2="184" stroke="#111" stroke-width="1.7" />
<path d="M956.2,238.8 L968.2,238.8 L967,241.4 Q962.2,244.4 957.4,241.4 Z" stroke="#000" stroke-width="0.6" fill="#111" />
<path d="M957.5,240.4 Q960,241.6 962.2,240.4 T967,240.4" stroke="#fff" stroke-width="0.5" fill="none"/>
<line x1="1108.7" y1="80" x2="1108.7" y2="110.5" stroke="#777" stroke-width="1" />
<line x1="1118.5" y1="80" x2="1118.5" y2="110.5" stroke="#777" stroke-width="1" />
<line x1="1075" y1="89.3" x2="1108.7" y2="89.3" stroke="#555" stroke-width="1" />
<polygon points="1108.7,89.3 1091.7,86.1 1091.7,92.5" fill="#000"/>
<polygon points="1118.6,89.3 1135.6,86.1 1135.6,92.5" fill="#000"/>
<line x1="1118.6" y1="89.3" x2="1174" y2="89.3" stroke="#555" stroke-width="1" />
<text x="1142.4" y="84.1" font-size="21.6" text-anchor="start" fill="#000" textLength="25" lengthAdjust="spacingAndGlyphs" >10</text>
<path d="M1108.7,110.7 L1117.8,110.7 L1117.4,294.6 L1108.7,294.6 Z" stroke="#1a1a1a" stroke-width="1.3" fill="none" />
<line x1="1095" y1="119.9" x2="1108.4" y2="106.5" stroke="#444" stroke-width="0.9" />
<line x1="1095" y1="131.75" x2="1108.4" y2="118.35" stroke="#444" stroke-width="0.9" />
<line x1="1095" y1="143.6" x2="1108.4" y2="130.2" stroke="#444" stroke-width="0.9" />
<line x1="1095" y1="155.45" x2="1108.4" y2="142.04999999999998" stroke="#444" stroke-width="0.9" />
<line x1="1095" y1="167.29999999999998" x2="1108.4" y2="153.89999999999998" stroke="#444" stroke-width="0.9" />
<line x1="1095" y1="179.14999999999998" x2="1108.4" y2="165.74999999999997" stroke="#444" stroke-width="0.9" />
<line x1="1095" y1="190.99999999999997" x2="1108.4" y2="177.59999999999997" stroke="#444" stroke-width="0.9" />
<line x1="1095" y1="202.84999999999997" x2="1108.4" y2="189.44999999999996" stroke="#444" stroke-width="0.9" />
<line x1="1095" y1="214.69999999999996" x2="1108.4" y2="201.29999999999995" stroke="#444" stroke-width="0.9" />
<line x1="1095" y1="226.54999999999995" x2="1108.4" y2="213.14999999999995" stroke="#444" stroke-width="0.9" />
<line x1="1095" y1="238.39999999999995" x2="1108.4" y2="224.99999999999994" stroke="#444" stroke-width="0.9" />
<line x1="1095" y1="250.24999999999994" x2="1108.4" y2="236.84999999999994" stroke="#444" stroke-width="0.9" />
<line x1="1095" y1="262.0999999999999" x2="1108.4" y2="248.69999999999993" stroke="#444" stroke-width="0.9" />
<line x1="1095" y1="273.94999999999993" x2="1108.4" y2="260.54999999999995" stroke="#444" stroke-width="0.9" />
<line x1="1095" y1="285.79999999999995" x2="1108.4" y2="272.4" stroke="#444" stroke-width="0.9" />
<line x1="1095.65" y1="297" x2="1108.4" y2="284.25" stroke="#444" stroke-width="0.9" />
<line x1="1107.5" y1="297" x2="1108.4" y2="296.1" stroke="#444" stroke-width="0.9" />
<path d="M1119.4,156.2 L1119.4,184" stroke="#222" stroke-width="1.8" fill="none" />
<rect x="1119.2" y="184" width="2.0" height="65" rx="0" stroke="#111" stroke-width="1" fill="none" />
<line x1="1108.9" y1="295" x2="1108.9" y2="334.2" stroke="#777" stroke-width="1" />
<line x1="1120.6" y1="249" x2="1120.6" y2="334.2" stroke="#666" stroke-width="1" />
<line x1="1075" y1="325.6" x2="1108.9" y2="325.6" stroke="#555" stroke-width="1" />
<polygon points="1108.9,325.6 1091.9,322.40000000000003 1091.9,328.8" fill="#000"/>
<polygon points="1120.7,325.6 1137.7,322.40000000000003 1137.7,328.8" fill="#000"/>
<line x1="1120.7" y1="325.6" x2="1175.2" y2="325.6" stroke="#555" stroke-width="1" />
<text x="1144" y="321" font-size="21.6" text-anchor="start" fill="#000" textLength="25" lengthAdjust="spacingAndGlyphs" >12</text>
<path d="M829.5,543.3 A25.7,25.7 0 1 1 854.7,543.3 L860.8,579 A19.5,19.5 0 1 1 822.6,579 Z" stroke="#000" stroke-width="1.5" fill="none" />
<line x1="820.4" y1="537.4" x2="832.4" y2="537.4" stroke="#000" stroke-width="1.3" />
<line x1="853" y1="537.4" x2="864" y2="537.4" stroke="#000" stroke-width="1.3" />
<rect x="835.2" y="549.2" width="14.6" height="33.1" rx="7.3" stroke="#000" stroke-width="1.5" fill="none" />
<rect x="832.6" y="509.8" width="20.2" height="29.6" rx="1" stroke="#000" stroke-width="1.9" fill="none" />
<rect x="835" y="512" width="15.4" height="27" rx="0" stroke="#333" stroke-width="0.9" fill="none" />
<circle cx="842.3" cy="521.2" r="7.3" stroke="#000" stroke-width="1.8" fill="none"/>
<circle cx="842.3" cy="521.2" r="4.2" stroke="#000" stroke-width="1.5" fill="none"/>
<path d="M837.5,539 L837.5,529.5 M847,539 L847,529.5" stroke="#000" stroke-width="2" fill="none" />
<rect x="819.6" y="516.2" width="12.8" height="10.4" rx="0" stroke="#000" stroke-width="1.6" fill="none" />
<line x1="928.3" y1="449.6" x2="928.3" y2="477" stroke="#000" stroke-width="1.1" />
<line x1="928.3" y1="477" x2="928.3" y2="648.5" stroke="#000" stroke-width="2" />
<line x1="912.7" y1="486.8" x2="922.6" y2="476.9" stroke="#222" stroke-width="1.0" />
<line x1="912.7" y1="498.79999999999995" x2="928" y2="483.4" stroke="#222" stroke-width="1.0" />
<line x1="912.7" y1="509.54999999999995" x2="928" y2="494.15" stroke="#222" stroke-width="1.0" />
<line x1="912.7" y1="520.3" x2="928" y2="504.9" stroke="#222" stroke-width="1.0" />
<line x1="912.7" y1="531.05" x2="928" y2="515.65" stroke="#222" stroke-width="1.0" />
<line x1="912.7" y1="541.8" x2="928" y2="526.4" stroke="#222" stroke-width="1.0" />
<line x1="912.7" y1="552.55" x2="928" y2="537.15" stroke="#222" stroke-width="1.0" />
<line x1="912.7" y1="563.3" x2="928" y2="547.9" stroke="#222" stroke-width="1.0" />
<line x1="912.7" y1="574.05" x2="928" y2="558.65" stroke="#222" stroke-width="1.0" />
<line x1="912.7" y1="584.8" x2="928" y2="569.4" stroke="#222" stroke-width="1.0" />
<line x1="912.7" y1="595.55" x2="928" y2="580.15" stroke="#222" stroke-width="1.0" />
<line x1="912.7" y1="606.3" x2="928" y2="590.9" stroke="#222" stroke-width="1.0" />
<line x1="912.7" y1="617.05" x2="928" y2="601.65" stroke="#222" stroke-width="1.0" />
<line x1="912.7" y1="627.8" x2="928" y2="612.4" stroke="#222" stroke-width="1.0" />
<line x1="912.7" y1="638.55" x2="928" y2="623.15" stroke="#222" stroke-width="1.0" />
<line x1="913.0" y1="649" x2="928" y2="633.9" stroke="#222" stroke-width="1.0" />
<line x1="923.75" y1="649" x2="928" y2="644.65" stroke="#222" stroke-width="1.0" />
<polygon points="928.5,458.2 944.5,455.2 944.5,461.2" fill="#000"/>
<line x1="928.5" y1="458.2" x2="990.5" y2="458.2" stroke="#000" stroke-width="1.1" />
<line x1="1084.5" y1="458.2" x2="1147" y2="458.2" stroke="#000" stroke-width="1.1" />
<polygon points="1147.3,458.2 1131.3,455.2 1131.3,461.2" fill="#000"/>
<text x="996.8" y="465.9" font-size="20.3" text-anchor="start" fill="#000" textLength="77.6" lengthAdjust="spacingAndGlyphs" >130-230</text>
<line x1="1147.3" y1="449.6" x2="1147.3" y2="495.4" stroke="#000" stroke-width="1.1" />
<line x1="1147.3" y1="495.4" x2="1147.3" y2="606" stroke="#444" stroke-width="1" stroke-dasharray="11,4"/>
<line x1="1082.5" y1="495.4" x2="1147.3" y2="495.4" stroke="#444" stroke-width="1" stroke-dasharray="14,4"/>
<line x1="1082.5" y1="495.4" x2="1082.8" y2="604" stroke="#444" stroke-width="1" stroke-dasharray="13,4"/>
<path d="M1082.6,605.8 Q1090,601 1100,602 Q1108,603 1118,607.5 Q1130,611 1147.3,605.8" stroke="#444" stroke-width="1" fill="none" stroke-dasharray="12,4"/>
<path d="M932.6,544.4 L932.6,495.7 L957.4,495.7 L943.6,533 M952,510.2 L1026,512.2" stroke="#000" stroke-width="1.4" fill="none" />
<path d="M932.6,544.4 L942.4,544.4" stroke="#000" stroke-width="1.4" fill="none" />
<path d="M1026,530.2 L947.4,532.4 Q943.2,532.6 942.9,536.5" stroke="#000" stroke-width="1.4" fill="none" />
<path d="M942.9,536 L942.4,601.4 L928.8,601.4" stroke="#000" stroke-width="1.4" fill="none" />
<rect x="929.6" y="509.8" width="2.2" height="91.4" rx="0" stroke="#000" stroke-width="0.9" fill="none" />
<rect x="1011.2" y="515.7" width="9.6" height="11.7" rx="0" stroke="#000" stroke-width="1.2" fill="none" />
<rect x="1026.4" y="508.6" width="6.4" height="30.0" rx="2" stroke="#000" stroke-width="1.8" fill="none" />
<line x1="1029.6" y1="510" x2="1029.6" y2="537" stroke="#000" stroke-width="0.8" />
<rect x="1033" y="516.4" width="94.6" height="9.9" fill="#f0f0f0" stroke="#000" stroke-width="1.2"/>
<line x1="1035.5" y1="516.6" x2="1035.5" y2="526.2" stroke="#333" stroke-width="0.8" />
<line x1="1038.1" y1="516.6" x2="1038.1" y2="526.2" stroke="#333" stroke-width="0.8" />
<line x1="1040.6999999999998" y1="516.6" x2="1040.6999999999998" y2="526.2" stroke="#333" stroke-width="0.8" />
<line x1="1043.2999999999997" y1="516.6" x2="1043.2999999999997" y2="526.2" stroke="#333" stroke-width="0.8" />
<line x1="1045.8999999999996" y1="516.6" x2="1045.8999999999996" y2="526.2" stroke="#333" stroke-width="0.8" />
<line x1="1048.4999999999995" y1="516.6" x2="1048.4999999999995" y2="526.2" stroke="#333" stroke-width="0.8" />
<line x1="1051.0999999999995" y1="516.6" x2="1051.0999999999995" y2="526.2" stroke="#333" stroke-width="0.8" />
<line x1="1053.6999999999994" y1="516.6" x2="1053.6999999999994" y2="526.2" stroke="#333" stroke-width="0.8" />
<line x1="1056.2999999999993" y1="516.6" x2="1056.2999999999993" y2="526.2" stroke="#333" stroke-width="0.8" />
<line x1="1058.8999999999992" y1="516.6" x2="1058.8999999999992" y2="526.2" stroke="#333" stroke-width="0.8" />
<line x1="1061.499999999999" y1="516.6" x2="1061.499999999999" y2="526.2" stroke="#333" stroke-width="0.8" />
<line x1="1064.099999999999" y1="516.6" x2="1064.099999999999" y2="526.2" stroke="#333" stroke-width="0.8" />
<line x1="1066.699999999999" y1="516.6" x2="1066.699999999999" y2="526.2" stroke="#333" stroke-width="0.8" />
<line x1="1069.2999999999988" y1="516.6" x2="1069.2999999999988" y2="526.2" stroke="#333" stroke-width="0.8" />
<line x1="1071.8999999999987" y1="516.6" x2="1071.8999999999987" y2="526.2" stroke="#333" stroke-width="0.8" />
<line x1="1074.4999999999986" y1="516.6" x2="1074.4999999999986" y2="526.2" stroke="#333" stroke-width="0.8" />
<line x1="1077.0999999999985" y1="516.6" x2="1077.0999999999985" y2="526.2" stroke="#333" stroke-width="0.8" />
<line x1="1079.6999999999985" y1="516.6" x2="1079.6999999999985" y2="526.2" stroke="#333" stroke-width="0.8" />
<line x1="1082.2999999999984" y1="516.6" x2="1082.2999999999984" y2="526.2" stroke="#333" stroke-width="0.8" />
<line x1="1084.8999999999983" y1="516.6" x2="1084.8999999999983" y2="526.2" stroke="#333" stroke-width="0.8" />
<line x1="1087.4999999999982" y1="516.6" x2="1087.4999999999982" y2="526.2" stroke="#333" stroke-width="0.8" />
<line x1="1090.099999999998" y1="516.6" x2="1090.099999999998" y2="526.2" stroke="#333" stroke-width="0.8" />
<line x1="1092.699999999998" y1="516.6" x2="1092.699999999998" y2="526.2" stroke="#333" stroke-width="0.8" />
<line x1="1095.299999999998" y1="516.6" x2="1095.299999999998" y2="526.2" stroke="#333" stroke-width="0.8" />
<line x1="1097.8999999999978" y1="516.6" x2="1097.8999999999978" y2="526.2" stroke="#333" stroke-width="0.8" />
<line x1="1100.4999999999977" y1="516.6" x2="1100.4999999999977" y2="526.2" stroke="#333" stroke-width="0.8" />
<line x1="1103.0999999999976" y1="516.6" x2="1103.0999999999976" y2="526.2" stroke="#333" stroke-width="0.8" />
<line x1="1105.6999999999975" y1="516.6" x2="1105.6999999999975" y2="526.2" stroke="#333" stroke-width="0.8" />
<line x1="1108.2999999999975" y1="516.6" x2="1108.2999999999975" y2="526.2" stroke="#333" stroke-width="0.8" />
<line x1="1110.8999999999974" y1="516.6" x2="1110.8999999999974" y2="526.2" stroke="#333" stroke-width="0.8" />
<line x1="1113.4999999999973" y1="516.6" x2="1113.4999999999973" y2="526.2" stroke="#333" stroke-width="0.8" />
<line x1="1116.0999999999972" y1="516.6" x2="1116.0999999999972" y2="526.2" stroke="#333" stroke-width="0.8" />
<line x1="1118.699999999997" y1="516.6" x2="1118.699999999997" y2="526.2" stroke="#333" stroke-width="0.8" />
<line x1="1121.299999999997" y1="516.6" x2="1121.299999999997" y2="526.2" stroke="#333" stroke-width="0.8" />
<line x1="1123.899999999997" y1="516.6" x2="1123.899999999997" y2="526.2" stroke="#333" stroke-width="0.8" />
<line x1="1126.4999999999968" y1="516.6" x2="1126.4999999999968" y2="526.2" stroke="#333" stroke-width="0.8" />
<rect x="1074.8" y="512.4" width="8.4" height="17.2" rx="1" stroke="#000" stroke-width="1.6" fill="#fff" />
<line x1="1074.8" y1="518" x2="1083.2" y2="518" stroke="#000" stroke-width="0.9" />
<line x1="1074.8" y1="524" x2="1083.2" y2="524" stroke="#000" stroke-width="0.9" />
</g>
</svg>
</body></html>
